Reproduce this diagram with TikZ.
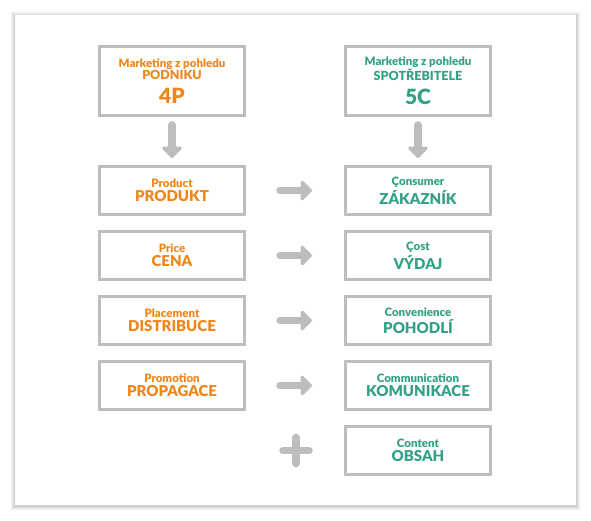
\documentclass[tikz,border=0pt]{standalone}
\usepackage{fontspec}
\setmainfont{Lato}[BoldFont={Lato Black}]
\usetikzlibrary{arrows.meta,positioning}
\definecolor{oranzova}{HTML}{F08519}
\definecolor{zelena}{HTML}{33A185}
\definecolor{sedaram}{HTML}{BEBEBE}
\definecolor{sedasipka}{HTML}{BDBDBD}
\newcommand{\mala}{\fontsize{11.5}{13}\selectfont}
\newcommand{\stredni}{\fontsize{12.5}{14}\selectfont}
\newcommand{\velka}{\fontsize{15}{16}\selectfont}
\newcommand{\obri}{\fontsize{21}{22}\selectfont}
\tikzset{
  ramec/.style={
    draw=sedaram,
    line width=3pt,
    fill=white,
    align=center,
    minimum width=145pt,
    minimum height=48pt,
    inner sep=2pt,
    font=\bfseries
  },
  hlava/.style={ramec,minimum height=69pt},
  vlevo/.style={text=oranzova},
  vpravo/.style={text=zelena},
  sipka/.style={
    -{Triangle[round,length=12pt,width=23pt]},
    line width=7.5pt,
    line cap=round,
    sedasipka
  }
}

\begin{document}
\begin{tikzpicture}[x=1pt,y=1pt,node distance=14pt]
\useasboundingbox (0,0) rectangle (591,-521);
\fill[white] (0,0) rectangle (591,-521);
% stin a panel
\foreach \d/\o in {5/0.02,4/0.03,3/0.04,2/0.05,1/0.06}
  \fill[black,opacity=\o] (15-\d,-15+\d-1) rectangle (576+\d,-505-\d-1);
\fill[white] (15,-15) rectangle (576,-505);

\node[hlava,vlevo] (p0) at (172,-81) {{\mala Marketing z pohledu}\\{\stredni PODNIKU}\\[8pt]{\obri 4P}};
\node[hlava,vpravo] (c0) at (418,-81) {{\mala Marketing z pohledu}\\{\stredni SPOTŘEBITELE}\\[8pt]{\obri 5C}};

\node[ramec,vlevo,below=48pt of p0] (p1) {{\mala Product}\\[2pt]{\velka PRODUKT}};
\node[ramec,vlevo,below=of p1] (p2) {{\mala Price}\\[2pt]{\velka CENA}};
\node[ramec,vlevo,below=of p2] (p3) {{\mala Placement}\\[2pt]{\velka DISTRIBUCE}};
\node[ramec,vlevo,below=of p3] (p4) {{\mala Promotion}\\[2pt]{\velka PROPAGACE}};

\node[ramec,vpravo,below=48pt of c0] (c1) {{\mala Çonsumer}\\[2pt]{\velka ZÁKAZNÍK}};
\node[ramec,vpravo,below=of c1] (c2) {{\mala Çost}\\[2pt]{\velka VÝDAJ}};
\node[ramec,vpravo,below=of c2] (c3) {{\mala Convenience}\\[2pt]{\velka POHODLÍ}};
\node[ramec,vpravo,below=of c3] (c4) {{\mala Communication}\\[2pt]{\velka KOMUNIKACE}};
\node[ramec,vpravo,below=of c4] (c5) {{\mala Content}\\[2pt]{\velka OBSAH}};

\draw[sipka,shorten <=8pt,shorten >=7pt] (p0) -- (p1);
\draw[sipka,shorten <=8pt,shorten >=7pt] (c0) -- (c1);
\foreach \i in {1,...,4}
  \draw[sipka,shorten <=34pt,shorten >=32pt] (p\i) -- (c\i);

\coordinate (plus) at (p4.east |- c5) ;
\draw[sedasipka,line width=7.5pt,line cap=round] ([xshift=37pt]plus) -- ++(26pt,0) ([xshift=50pt,yshift=13pt]plus) -- ++(0,-26pt);
\end{tikzpicture}
\end{document}
